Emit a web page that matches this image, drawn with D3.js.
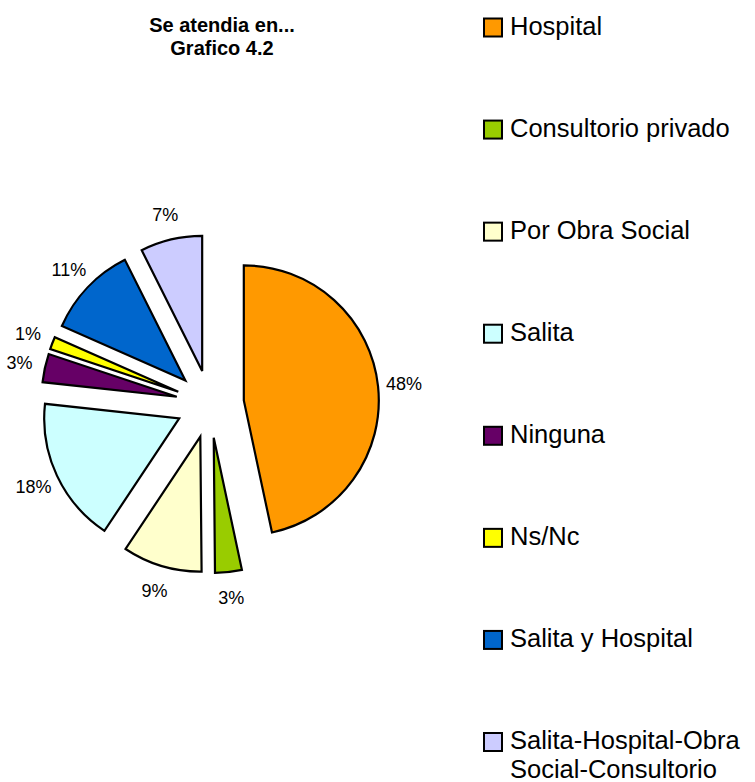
<!DOCTYPE html>
<meta charset="utf-8">
<script src="https://d3js.org/d3.v7.min.js"></script>
<style>
  body { margin: 0; background: #fff; }
  text { font-family: "Liberation Sans", Arial, sans-serif; fill: #000; }
  .title { font-size: 20px; font-weight: bold; }
  .pct { font-size: 18px; }
  .legend { font-size: 25.5px; }
</style>
<div id="chart"></div>
<script>
// categories and shares
var categories = ["Hospital", "Consultorio privado", "Por Obra Social", "Salita",
                  "Ninguna", "Ns/Nc", "Salita y Hospital",
                  "Salita-Hospital-Obra Social-Consultorio"];
var values = [46.7, 3.2, 9.5, 17.4, 3.4, 1.5, 11.0, 7.4];
// percentages printed on the chart
var shown = [48, 3, 9, 18, 3, 1, 11, 7];
var colors = ["#FF9900", "#99CC00", "#FFFFCC", "#CCFFFF",
              "#660066", "#FFFF00", "#0066CC", "#CCCCFF"];
var titleLines = ["Se atendia en...", "Grafico 4.2"];

var width = 755, height = 782;
var cx = 210, cy = 404,   // pie centre
    radius = 135,
    explode = 34,
    labelR = 195;

var svg = d3.select("#chart").append("svg")
    .attr("width", width)
    .attr("height", height);

// title
svg.append("text")
    .attr("class", "title")
    .attr("text-anchor", "middle")
  .selectAll("tspan")
  .data(titleLines)
  .enter().append("tspan")
    .attr("x", 222)
    .attr("y", function(d, i) { return 31.5 + i * 23.5; })
    .text(function(d) { return d; });

var pie = d3.pie().sort(null).value(function(d) { return d; });
var arcs = pie(values);
var arc = d3.arc().innerRadius(0).outerRadius(radius);

function dir(d) {
  var a = (d.startAngle + d.endAngle) / 2;
  return [Math.sin(a), -Math.cos(a)];
}

var g = svg.append("g").attr("transform", "translate(" + cx + "," + cy + ")");

g.selectAll("path")
  .data(arcs)
  .enter().append("path")
    .attr("d", arc)
    .attr("fill", function(d, i) { return colors[i]; })
    .attr("stroke", "#000")
    .attr("stroke-width", 2.2)
    .attr("stroke-linejoin", "miter")
    .attr("transform", function(d) {
      var v = dir(d);
      return "translate(" + v[0] * explode + "," + v[1] * explode + ")";
    });

g.selectAll("text.pct")
  .data(arcs)
  .enter().append("text")
    .attr("class", "pct")
    .attr("text-anchor", "middle")
    .attr("x", function(d) { return dir(d)[0] * labelR; })
    .attr("y", function(d) { return dir(d)[1] * labelR + 6.5; })
    .text(function(d, i) { return shown[i] + "%"; });

// legend
var legendY = d3.scaleLinear().domain([0, categories.length - 1]).range([27.5, 742]);

var item = svg.append("g").selectAll("g")
  .data(categories)
  .enter().append("g")
    .attr("transform", function(d, i) { return "translate(484," + legendY(i) + ")"; });

item.append("rect")
    .attr("x", 0)
    .attr("y", -9)
    .attr("width", 18)
    .attr("height", 18)
    .attr("fill", function(d, i) { return colors[i]; })
    .attr("stroke", "#000")
    .attr("stroke-width", 2);

item.append("text")
    .attr("class", "legend")
    .attr("x", 26)
    .attr("y", 7)
    .each(function(d) {
      var el = d3.select(this);
      var words = d.split(" ");
      var lines = [], line = "";
      // wrap to fit the space left of the window edge
      words.forEach(function(w) {
        var test = line ? line + " " + w : w;
        el.text(test);
        if (line && el.node().getComputedTextLength() > 245) {
          lines.push(line);
          line = w;
        } else {
          line = test;
        }
      });
      lines.push(line);
      el.text(null);
      el.selectAll("tspan").data(lines).enter().append("tspan")
        .attr("x", 26)
        .attr("dy", function(l, j) { return j ? 28.5 : 0; })
        .text(function(l) { return l; });
    });
</script>
